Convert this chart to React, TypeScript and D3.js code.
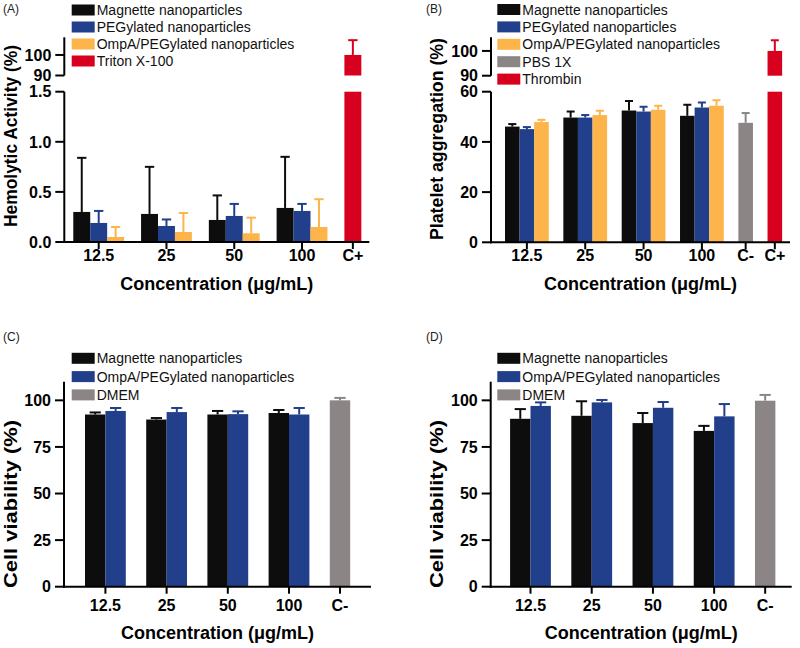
import React from "react";
import * as d3 from "d3";

const FONT = "'Liberation Sans', Arial, Helvetica, sans-serif";

// ---------- shared categories ----------
const concentrations = ["12.5", "25", "50", "100"];

// ---------- colours ----------
const C_BLACK = "#0d0d0d";
const C_BLUE = "#223f8b";
const C_ORANGE = "#fdb44b";
const C_GRAY = "#8b8585";
const C_RED = "#d8001f";

// ---------- Panel A: hemolytic activity (%) ----------
const hemoMagnetteMean = [0.3, 0.28, 0.22, 0.34];
const hemoMagnetteSd = [0.54, 0.47, 0.245, 0.51];
const hemoPegMean = [0.19, 0.16, 0.26, 0.31];
const hemoPegSd = [0.12, 0.065, 0.12, 0.07];
const hemoOmpaMean = [0.05, 0.1, 0.087, 0.15];
const hemoOmpaSd = [0.1, 0.19, 0.156, 0.277];
const hemoTritonMean = 100;
const hemoTritonSd = 7.2;
const hemoLowTicks = [0, 0.5, 1.0, 1.5];
const hemoHighTicks = [90, 100];

// ---------- Panel B: platelet aggregation (%) ----------
const platMagnetteMean = [46.1, 49.7, 52.5, 50.4];
const platMagnetteSd = [1.0, 2.4, 3.8, 4.4];
const platPegMean = [45.1, 49.7, 52.1, 53.7];
const platPegSd = [0.8, 1.0, 1.9, 2.0];
const platOmpaMean = [47.9, 50.7, 52.8, 54.4];
const platOmpaSd = [0.9, 1.7, 1.6, 2.2];
const platPbsMean = 47.6;
const platPbsSd = 3.9;
const platThrombinMean = 100;
const platThrombinSd = 4.3;
const platLowTicks = [0, 20, 40, 60];
const platHighTicks = [90, 100];

// ---------- Panel C: cell viability (%) ----------
const viabCMagnetteMean = [92.4, 89.7, 92.4, 93.2];
const viabCMagnetteSd = [1.1, 0.8, 1.9, 1.6];
const viabCOmpaMean = [94.3, 93.7, 92.6, 92.4];
const viabCOmpaSd = [1.6, 2.2, 1.5, 3.5];
const viabCDmemMean = 100;
const viabCDmemSd = 1.3;

// ---------- Panel D: cell viability (%) ----------
const viabDMagnetteMean = [90.1, 91.7, 87.8, 83.6];
const viabDMagnetteSd = [5.2, 7.8, 5.4, 2.7];
const viabDOmpaMean = [97.0, 98.9, 96.0, 91.4];
const viabDOmpaSd = [1.9, 1.3, 3.1, 6.6];
const viabDDmemMean = 99.8;
const viabDDmemSd = 3.1;

const viabTicks = [0, 25, 50, 75, 100];

type Series = { name: string; color: string; mean: number[]; sd: number[] };
type Control = { name: string; label: string; color: string; mean: number; sd: number; slot: number };
type Segment = { domain: [number, number]; range: [number, number]; ticks: number[]; fmt: (v: number) => string };

type PanelCfg = {
  tag: string;
  tagX: number;
  tagY: number;
  x0: number;
  x1: number;
  pad: number;
  slots: number;
  axisY: number;
  segments: Segment[];
  series: Series[];
  controls: Control[];
  legendX: number;
  legendY: number;
  legendStep: number;
  yTitle: string;
  yTitleX: number;
  yTitleY: number;
  yTitleLen: number;
  tickLabelDy: number;
  xTitleDy: number;
};

const fmt1 = d3.format(".1f");
const fmt0 = d3.format("d");

function Panel({ cfg }: { cfg: PanelCfg }) {
  const xs = d3.scaleLinear().domain([0, cfg.slots]).range([cfg.x0, cfg.x1]);
  const w = xs(1) - xs(0);
  const nSer = cfg.series.length;
  const groupStep = nSer + 1;
  const segScales = cfg.segments.map((s) => ({ ...s, y: d3.scaleLinear().domain(s.domain).range(s.range) }));

  type Bar = { x: number; mean: number; sd: number; color: string };
  const bars: Bar[] = [];
  const xTicks: { x: number; label: string }[] = [];
  concentrations.forEach((c, gi) => {
    cfg.series.forEach((s, si) => {
      bars.push({ x: xs(cfg.pad + gi * groupStep + si), mean: s.mean[gi], sd: s.sd[gi], color: s.color });
    });
    xTicks.push({ x: xs(cfg.pad + gi * groupStep + nSer / 2), label: c });
  });
  cfg.controls.forEach((c) => {
    bars.push({ x: xs(cfg.pad + c.slot), mean: c.mean, sd: c.sd, color: c.color });
    xTicks.push({ x: xs(cfg.pad + c.slot + 0.5), label: c.label });
  });

  const capW = w * 0.55;

  const rects: React.ReactNode[] = [];
  const errs: React.ReactNode[] = [];
  bars.forEach((b, i) => {
    segScales.forEach((s, j) => {
      const [d0, d1] = s.domain;
      if (b.mean > d0) {
        const top = s.y(Math.min(b.mean, d1));
        const bot = s.y(d0);
        rects.push(<rect key={`r${i}-${j}`} x={b.x} y={top} width={w} height={bot - top} fill={b.color} />);
      }
      const hi = b.mean + b.sd;
      if (b.mean >= d0 && b.mean <= d1 && hi <= d1 + 1e-9) {
        const cx = b.x + w / 2;
        errs.push(
          <g key={`e${i}-${j}`} stroke={b.color} strokeWidth={2}>
            <line x1={cx} x2={cx} y1={s.y(b.mean)} y2={s.y(hi)} />
            <line x1={cx - capW / 2} x2={cx + capW / 2} y1={s.y(hi)} y2={s.y(hi)} />
          </g>
        );
      }
    });
  });

  const legendItems = [
    ...cfg.series.map((s) => ({ name: s.name, color: s.color })),
    ...cfg.controls.map((c) => ({ name: c.name, color: c.color })),
  ];

  return (
    <g fontFamily={FONT}>
      <text x={cfg.tagX} y={cfg.tagY} fontSize={12} fill="#222">
        {cfg.tag}
      </text>
      {rects}
      {errs}
      {/* y axis segments */}
      {segScales.map((s, j) => (
        <g key={`ax${j}`}>
          <line x1={cfg.x0} x2={cfg.x0} y1={s.range[0] + (j === 0 ? 1 : 0)} y2={s.range[1]} stroke="#000" strokeWidth={2} />
          {s.ticks.map((t) => (
            <g key={`t${t}`}>
              <line x1={cfg.x0 - 9} x2={cfg.x0} y1={s.y(t)} y2={s.y(t)} stroke="#000" strokeWidth={2} />
              <text x={cfg.x0 - 13} y={s.y(t) + 5.7} textAnchor="end" fontSize={16} fontWeight="bold" fill="#000">
                {s.fmt(t)}
              </text>
            </g>
          ))}
        </g>
      ))}
      {/* x axis */}
      <line x1={cfg.x0 - 1} x2={cfg.x1} y1={cfg.axisY} y2={cfg.axisY} stroke="#000" strokeWidth={2} />
      {xTicks.map((t) => (
        <g key={`xt${t.label}`}>
          <line x1={t.x} x2={t.x} y1={cfg.axisY} y2={cfg.axisY + 7} stroke="#000" strokeWidth={2} />
          <text x={t.x} y={cfg.axisY + cfg.tickLabelDy} textAnchor="middle" fontSize={16} fontWeight="bold" fill="#000">
            {t.label}
          </text>
        </g>
      ))}
      <text
        x={(cfg.x0 + cfg.x1) / 2}
        y={cfg.axisY + cfg.xTitleDy}
        textAnchor="middle"
        fontSize={18}
        fontWeight="bold"
        fill="#000"
      >
        Concentration (μg/mL)
      </text>
      <text
        transform={`translate(${cfg.yTitleX},${cfg.yTitleY}) rotate(-90)`}
        textAnchor="middle"
        fontSize={18}
        fontWeight="bold"
        fill="#000"
        textLength={cfg.yTitleLen}
        lengthAdjust="spacingAndGlyphs"
      >
        {cfg.yTitle}
      </text>
      {/* legend */}
      {legendItems.map((it, i) => {
        const cy = cfg.legendY + i * cfg.legendStep;
        return (
          <g key={`lg${i}`}>
            <rect x={cfg.legendX} y={cy - 5.5} width={23} height={11} fill={it.color} />
            <text x={cfg.legendX + 25} y={cy + 5} fontSize={14} fill="#111">
              {it.name}
            </text>
          </g>
        );
      })}
    </g>
  );
}

const panelA: PanelCfg = {
  tag: "(A)",
  tagX: 3,
  tagY: 13,
  x0: 64.3,
  x1: 369.3,
  pad: 0.53,
  slots: 18,
  axisY: 242,
  segments: [
    { domain: [0, 1.5], range: [242, 91.7], ticks: hemoLowTicks, fmt: fmt1 },
    { domain: [90, 108.6], range: [75.5, 37.3], ticks: hemoHighTicks, fmt: fmt0 },
  ],
  series: [
    { name: "Magnette nanoparticles", color: C_BLACK, mean: hemoMagnetteMean, sd: hemoMagnetteSd },
    { name: "PEGylated nanoparticles", color: C_BLUE, mean: hemoPegMean, sd: hemoPegSd },
    { name: "OmpA/PEGylated nanoparticles", color: C_ORANGE, mean: hemoOmpaMean, sd: hemoOmpaSd },
  ],
  controls: [{ name: "Triton X-100", label: "C+", color: C_RED, mean: hemoTritonMean, sd: hemoTritonSd, slot: 16 }],
  legendX: 71.7,
  legendY: 10,
  legendStep: 17,
  yTitle: "Hemolytic Activity (%)",
  yTitleX: 17,
  yTitleY: 136,
  yTitleLen: 182,
  tickLabelDy: 19,
  xTitleDy: 48,
};

const panelB: PanelCfg = {
  tag: "(B)",
  tagX: 426,
  tagY: 13,
  x0: 491,
  x1: 790,
  pad: 0.96,
  slots: 20.5,
  axisY: 242.3,
  segments: [
    { domain: [0, 60], range: [242.3, 91.7], ticks: platLowTicks, fmt: fmt0 },
    { domain: [90, 105.5], range: [75.7, 37.3], ticks: platHighTicks, fmt: fmt0 },
  ],
  series: [
    { name: "Magnette nanoparticles", color: C_BLACK, mean: platMagnetteMean, sd: platMagnetteSd },
    { name: "PEGylated nanoparticles", color: C_BLUE, mean: platPegMean, sd: platPegSd },
    { name: "OmpA/PEGylated nanoparticles", color: C_ORANGE, mean: platOmpaMean, sd: platOmpaSd },
  ],
  controls: [
    { name: "PBS 1X", label: "C-", color: C_GRAY, mean: platPbsMean, sd: platPbsSd, slot: 16 },
    { name: "Thrombin", label: "C+", color: C_RED, mean: platThrombinMean, sd: platThrombinSd, slot: 18 },
  ],
  legendX: 497.3,
  legendY: 9.5,
  legendStep: 17.4,
  yTitle: "Platelet aggregation (%)",
  yTitleX: 443,
  yTitleY: 139,
  yTitleLen: 202,
  tickLabelDy: 19,
  xTitleDy: 48,
};

const panelC: PanelCfg = {
  tag: "(C)",
  tagX: 3,
  tagY: 341,
  x0: 64,
  x1: 371,
  pad: 1.03,
  slots: 15.05,
  axisY: 586.7,
  segments: [{ domain: [0, 110], range: [586.7, 381.7], ticks: viabTicks, fmt: fmt0 }],
  series: [
    { name: "Magnette nanoparticles", color: C_BLACK, mean: viabCMagnetteMean, sd: viabCMagnetteSd },
    { name: "OmpA/PEGylated nanoparticles", color: C_BLUE, mean: viabCOmpaMean, sd: viabCOmpaSd },
  ],
  controls: [{ name: "DMEM", label: "C-", color: C_GRAY, mean: viabCDmemMean, sd: viabCDmemSd, slot: 12 }],
  legendX: 71.7,
  legendY: 358.3,
  legendStep: 18.3,
  yTitle: "Cell viability (%)",
  yTitleX: 17,
  yTitleY: 504,
  yTitleLen: 168,
  tickLabelDy: 24,
  xTitleDy: 52,
};

const panelD: PanelCfg = {
  tag: "(D)",
  tagX: 426,
  tagY: 341,
  x0: 490.7,
  x1: 791.7,
  pad: 0.95,
  slots: 14.75,
  axisY: 586.7,
  segments: [{ domain: [0, 110], range: [586.7, 381.7], ticks: viabTicks, fmt: fmt0 }],
  series: [
    { name: "Magnette nanoparticles", color: C_BLACK, mean: viabDMagnetteMean, sd: viabDMagnetteSd },
    { name: "OmpA/PEGylated nanoparticles", color: C_BLUE, mean: viabDOmpaMean, sd: viabDOmpaSd },
  ],
  controls: [{ name: "DMEM", label: "C-", color: C_GRAY, mean: viabDDmemMean, sd: viabDDmemSd, slot: 12 }],
  legendX: 497.3,
  legendY: 358.3,
  legendStep: 18.3,
  yTitle: "Cell viability (%)",
  yTitleX: 443,
  yTitleY: 504,
  yTitleLen: 168,
  tickLabelDy: 24,
  xTitleDy: 52,
};

export default function App() {
  return (
    <svg
      width={800}
      height={648}
      viewBox="0 0 800 648"
      style={{ position: "absolute", left: 0, top: 0, background: "#fff" }}
    >
      <rect x={0} y={0} width={800} height={648} fill="#fff" />
      <Panel cfg={panelA} />
      <Panel cfg={panelB} />
      <Panel cfg={panelC} />
      <Panel cfg={panelD} />
    </svg>
  );
}
